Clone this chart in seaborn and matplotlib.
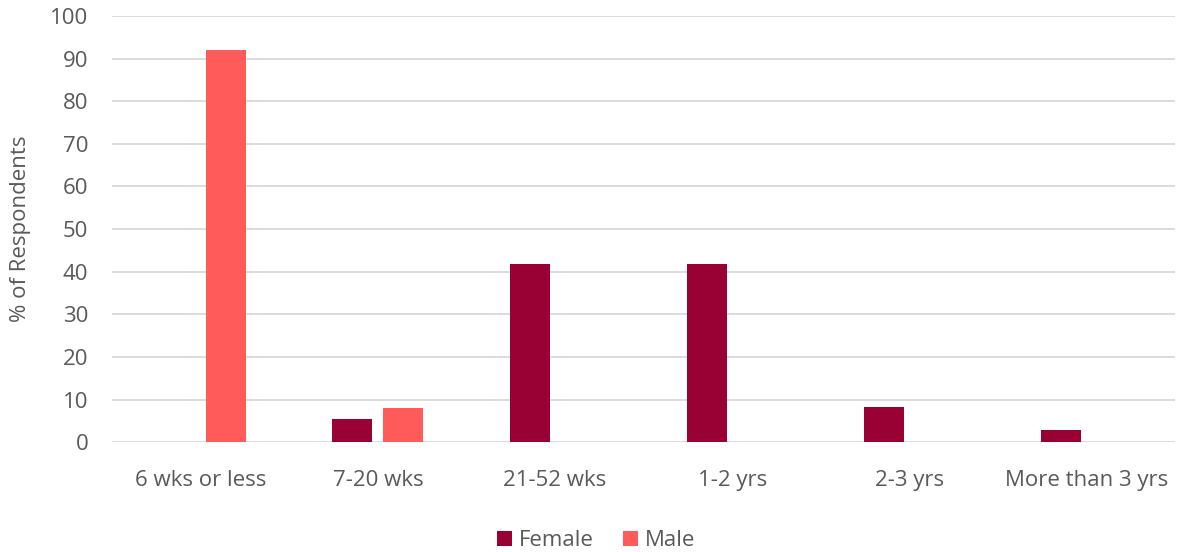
import pandas as pd
import matplotlib
matplotlib.use("Agg")
import matplotlib.pyplot as plt
import seaborn as sns

# Values
categories = ["6 wks or less", "7-20 wks", "21-52 wks", "1-2 yrs", "2-3 yrs", "More than 3 yrs"]
female = [0, 5.5, 41.7, 41.7, 8.3, 2.8]
male = [92, 7.9, 0, 0, 0, 0]
series = ["Female", "Male"]
colors = ["#990033", "#FF5B5B"]

df = pd.DataFrame({"Duration": categories, "Female": female, "Male": male})
df_melted = df.melt(id_vars=["Duration"], var_name="Sex", value_name="Percent")

sns.set_style("white")
plt.rcParams["font.family"] = ["Open Sans", "DejaVu Sans"]
text_color = "#595959"

fig = plt.figure(figsize=(11.8, 5.52), dpi=100)
ax = fig.add_axes([0.095, 0.199, 0.901, 0.772])

sns.barplot(data=df_melted, x="Duration", y="Percent", hue="Sex", hue_order=series,
            order=categories, palette=colors, saturation=1, width=0.576, gap=0.215,
            ax=ax, edgecolor="none", linewidth=0, zorder=3)

ax.set_ylim(0, 100)
ax.set_yticks(range(0, 101, 10))
ax.set_xlim(-0.5, len(categories) - 0.5)
ax.yaxis.grid(True, color="#D9D9D9", linewidth=1.3, zorder=0)
ax.set_axisbelow(True)
for s in ax.spines.values():
    s.set_visible(False)
ax.tick_params(axis="both", length=0, labelsize=16, colors=text_color)
ax.tick_params(axis="x", pad=20)
ax.tick_params(axis="y", pad=17)
ax.set_xlabel("")
ax.set_ylabel("% of Respondents", fontsize=16, color=text_color, labelpad=14)

ax.legend(loc="upper center", bbox_to_anchor=(0.455, -0.16), ncol=2, frameon=False,
          fontsize=16, labelcolor=text_color, handlelength=0.7, handleheight=0.7,
          handletextpad=0.3, columnspacing=1.3, title=None)

fig.savefig("out.png", dpi=100)
